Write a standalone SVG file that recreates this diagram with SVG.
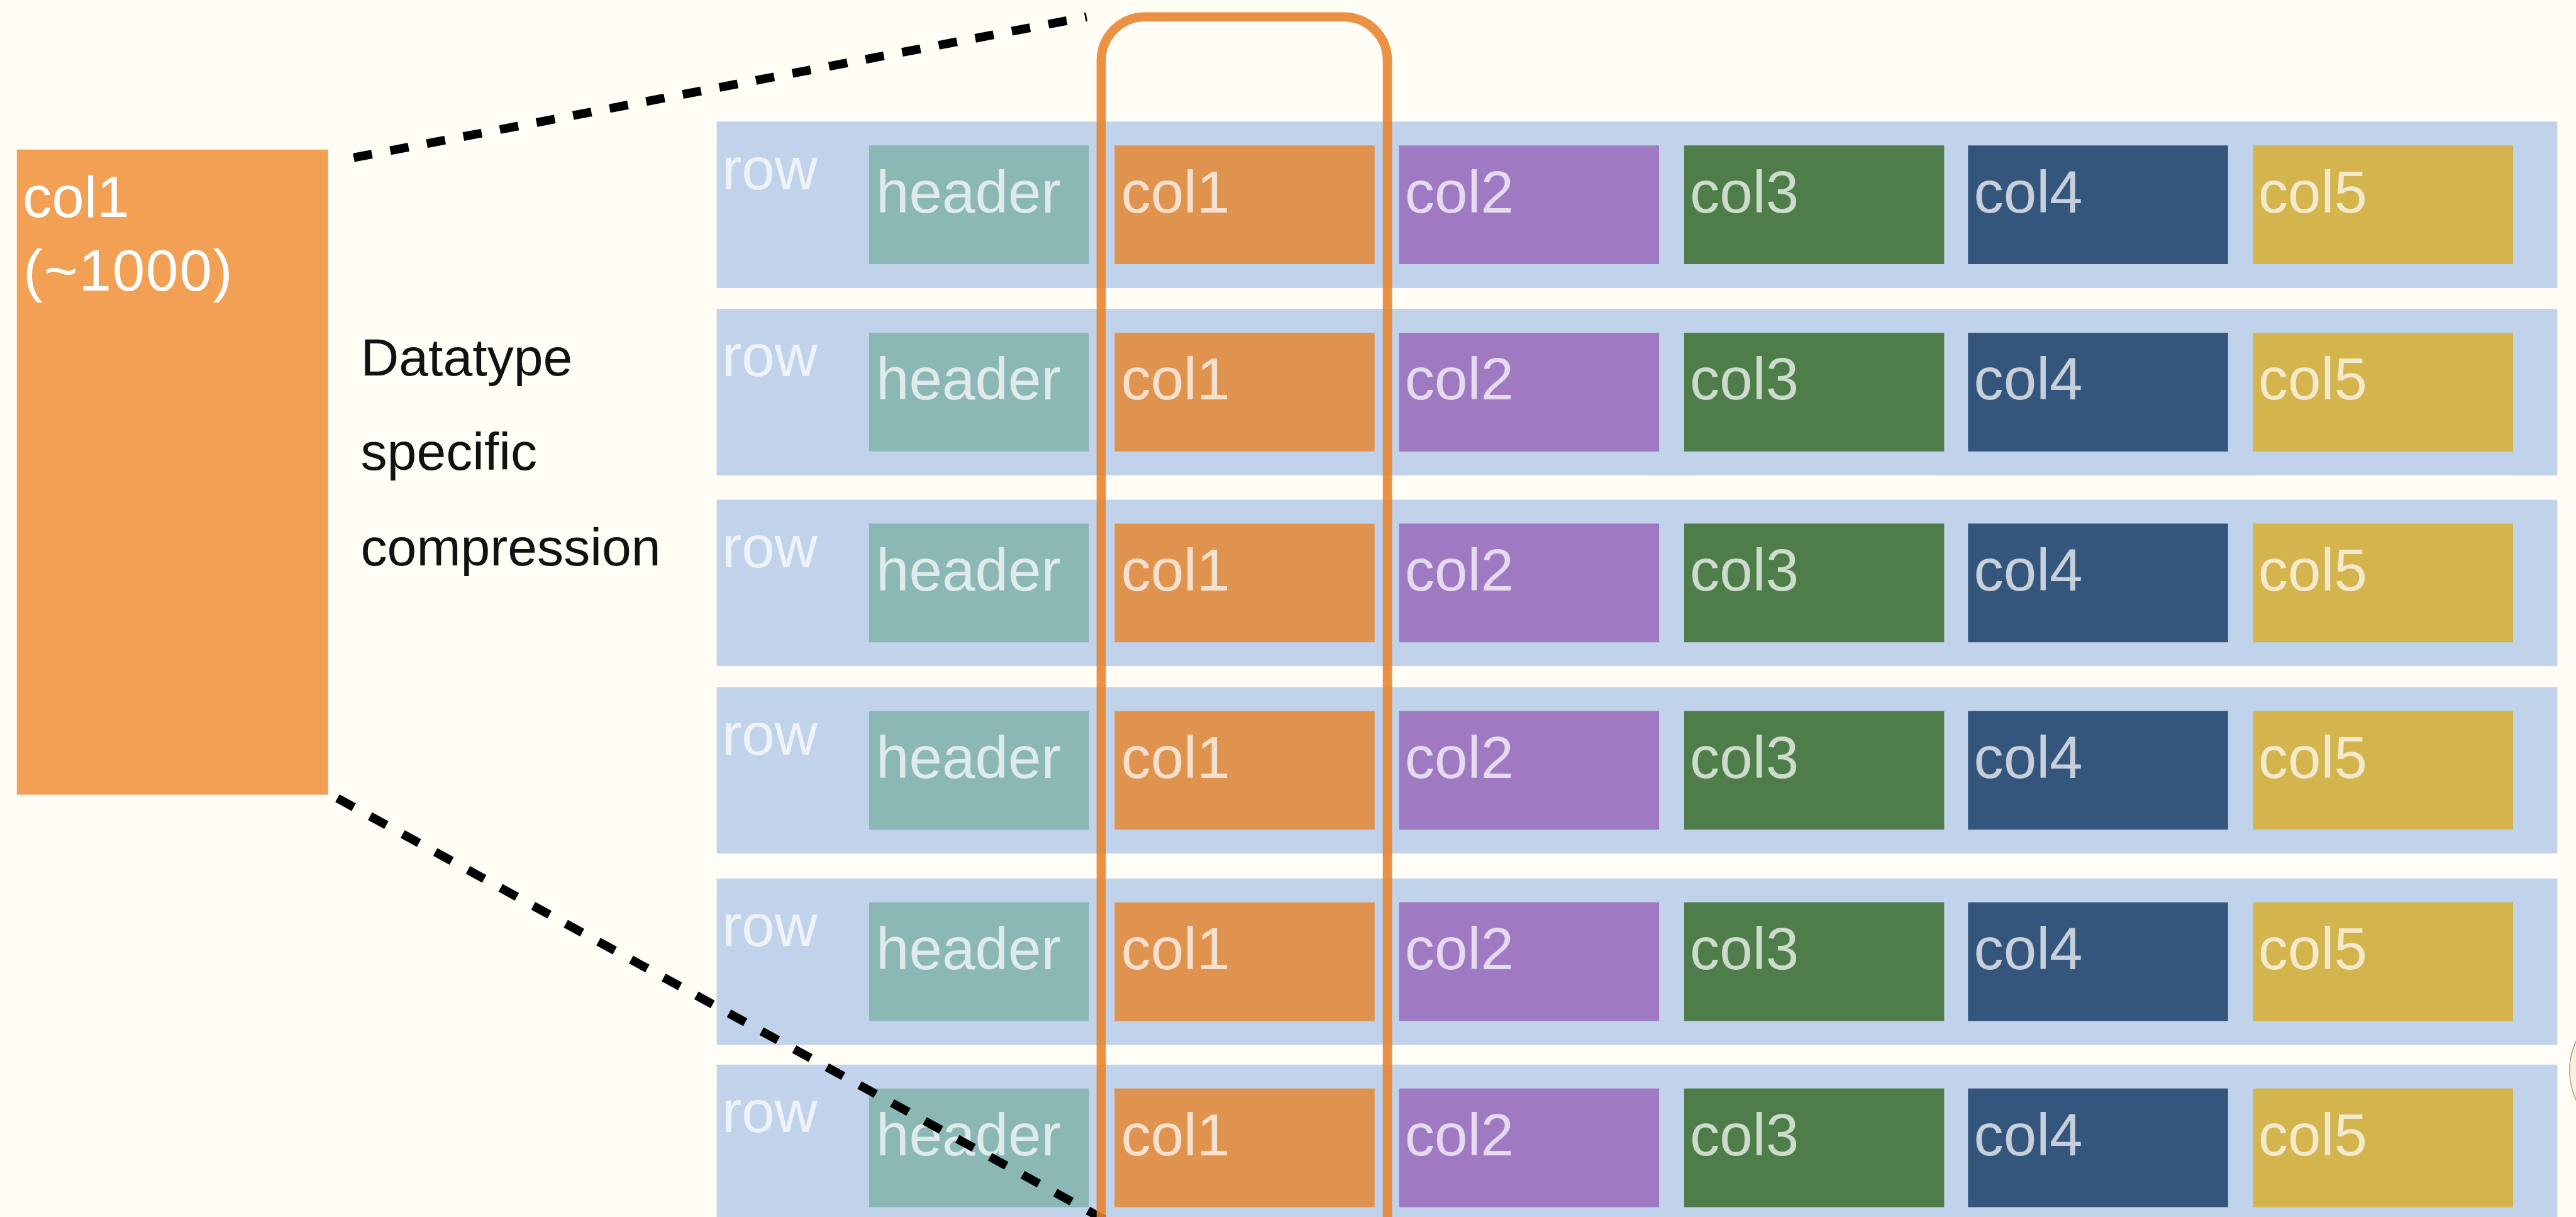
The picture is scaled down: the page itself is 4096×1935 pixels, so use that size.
<svg xmlns="http://www.w3.org/2000/svg" width="4096" height="1935" viewBox="0 0 4096 1935">
<style>
  text { font-family: "Liberation Sans", Arial, sans-serif; }
  .band { fill: #C0D3EA; }
  .hdr { fill: #8BB8B4; }
  .c1 { fill: #E0934F; }
  .c2 { fill: #A079C3; }
  .c3 { fill: #4E7D4A; }
  .c4 { fill: #34557C; }
  .c5 { fill: #D4B44C; }
  .lbl { fill: #FFFFFF; fill-opacity: 0.72; font-size: 102px; }
  .dash { fill: none; stroke: #000000; stroke-width: 15; stroke-dasharray: 32 32; }
  .note { fill: #111111; font-size: 91px; }
</style>
<defs>
  <g id="rowcells">
    <rect class="band" x="1232" y="0" width="3164" height="286"/>
    <text class="lbl" x="1241" y="116">row</text>
    <rect class="hdr" x="1494" y="41" width="378" height="204"/>
    <text class="lbl" x="1506" y="156">header</text>
    <rect class="c1" x="1916" y="41" width="447" height="204"/>
    <text class="lbl" x="1927" y="156">col1</text>
    <rect class="c2" x="2405" y="41" width="447" height="204"/>
    <text class="lbl" x="2415" y="156">col2</text>
    <rect class="c3" x="2895" y="41" width="447" height="204"/>
    <text class="lbl" x="2905" y="156">col3</text>
    <rect class="c4" x="3383" y="41" width="447" height="204"/>
    <text class="lbl" x="3393" y="156">col4</text>
    <rect class="c5" x="3873" y="41" width="447" height="204"/>
    <text class="lbl" x="3882" y="156">col5</text>
  </g>
</defs>
<rect x="0" y="0" width="4096" height="1935" fill="#FFFDF6"/>
<g transform="scale(0.925)">
  <g id="col1-block">
    <rect x="29" y="257" width="535" height="1109" fill="#F2A054"/>
    <text x="39" y="373" fill="#FFFFFF" font-size="100">col1</text>
    <text x="40" y="500" fill="#FFFFFF" font-size="100" letter-spacing="2">(~1000)</text>
  </g>
  <g id="compression-label">
    <text class="note" x="620" y="645">Datatype</text>
    <text class="note" x="620" y="808">specific</text>
    <text class="note" x="620" y="972">compression</text>
  </g>
  <g id="row1" transform="translate(0,209)"><use href="#rowcells"/></g>
  <g id="row2" transform="translate(0,531)"><use href="#rowcells"/></g>
  <g id="row3" transform="translate(0,859)"><use href="#rowcells"/></g>
  <g id="row4" transform="translate(0,1181)"><use href="#rowcells"/></g>
  <g id="row5" transform="translate(0,1510)"><use href="#rowcells"/></g>
  <g id="row6" transform="translate(0,1830)"><use href="#rowcells"/></g>
  <g id="edge-circle">
    <circle cx="4537" cy="1840" r="120" fill="#FAF1DA" stroke="#9A9A9A" stroke-width="1.5"/>
  </g>
  <g id="connectors">
    <line class="dash" x1="608" y1="271" x2="1868" y2="29"/>
    <line class="dash" x1="580" y1="1372" x2="1905" y2="2100"/>
  </g>
  <g id="column-highlight">
    <rect x="1893" y="29" width="492" height="2200" rx="75" ry="75" fill="none" stroke="#E8822A" stroke-opacity="0.88" stroke-width="16"/>
  </g>
</g>
</svg>
